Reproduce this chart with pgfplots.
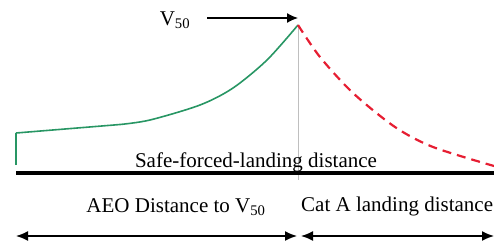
\documentclass[border=0pt]{standalone}
\usepackage{pgfplots}
\pgfplotsset{compat=1.18}
\usetikzlibrary{arrows.meta}
\usepackage{fontspec}
\setmainfont{Liberation Serif}
\definecolor{cgreen}{RGB}{40,150,100}
\definecolor{cred}{RGB}{230,30,50}
\begin{document}
\begin{tikzpicture}
\useasboundingbox (0,0) rectangle (494pt,247pt);
\clip (0,0) rectangle (494pt,247pt);
\begin{axis}[
  scale only axis, width=494pt, height=247pt,
  xmin=0, xmax=494, ymin=0, ymax=247, y dir=reverse,
  hide axis, clip=false,
]
% thin vertical
\addplot[gray!50, line width=0.6pt] coordinates {(298,25) (298,180)};
% ground line
\addplot[black, line width=3.2pt] coordinates {(16,173) (494,173)};
% green AEO curve
\addplot[cgreen, line width=1.6pt] coordinates {(16,165) (16,133)};
\addplot[cgreen, line width=1.6pt] coordinates {(16,133) (120,124.5)};
\addplot[cgreen, line width=1.6pt, smooth] coordinates {(120,124.5) (150,120) (200,105) (233,88) (267,60) (298,25)};
% red dashed
\addplot[cred, line width=2.2pt, dash pattern=on 9pt off 6pt, smooth] coordinates {(298,25) (320,57) (353,93) (395,127) (433,147) (494,166)};
% V50 arrow
\addplot[black, line width=1.3pt, -{Latex[length=11pt,width=10pt]}] coordinates {(207,18) (298,18)};
% bottom double arrows
\addplot[black, line width=1.6pt, {Latex[length=12pt,width=10pt]}-{Latex[length=12pt,width=10pt]}] coordinates {(16,236) (297,236)};
\addplot[black, line width=1.6pt, {Latex[length=12pt,width=10pt]}-{Latex[length=12pt,width=10pt]}] coordinates {(301,236) (494,236)};
% texts
\node[font=\fontsize{21}{24}\selectfont] at (axis cs:175,20) {V\textsubscript{50}};
\node[font=\fontsize{21}{24}\selectfont] at (axis cs:256,162.5) {Safe-forced-landing distance};
\node[font=\fontsize{21}{24}\selectfont] at (axis cs:176,207.5) {AEO Distance to V\textsubscript{50}};
\node[font=\fontsize{21}{24}\selectfont, anchor=west, inner sep=0pt] at (axis cs:301,206.5) {Cat A landing distance};
\end{axis}
\end{tikzpicture}
\end{document}
